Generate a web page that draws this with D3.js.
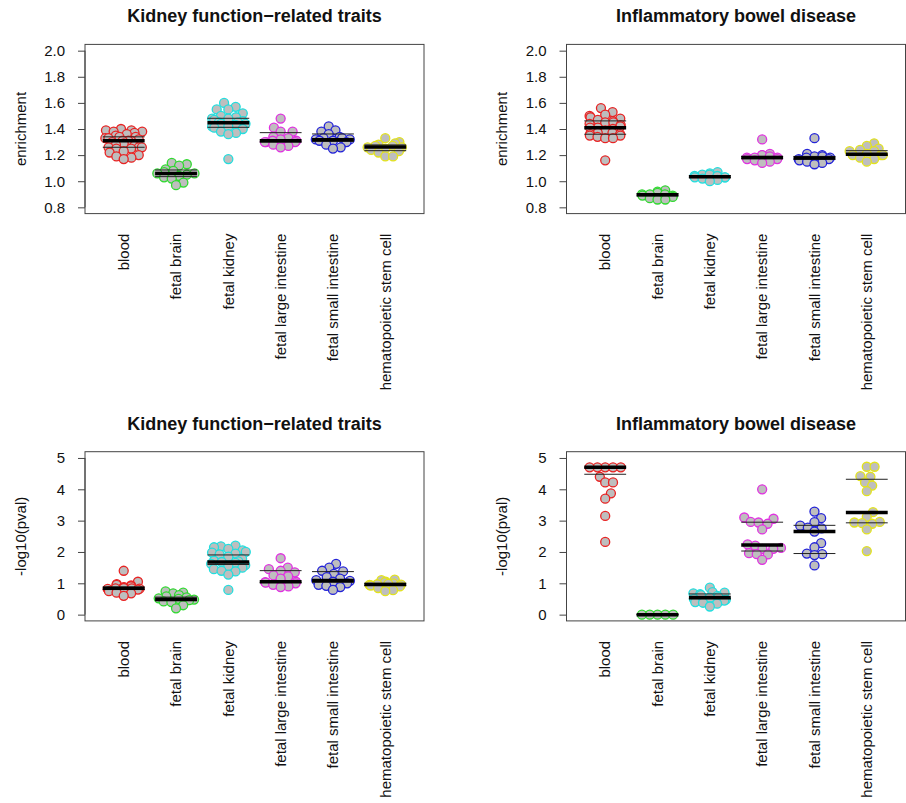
<!DOCTYPE html>
<html>
<head>
<meta charset="utf-8">
<script src="https://cdn.jsdelivr.net/npm/d3@7"></script>
<style>
  body { margin: 0; background: #fff; }
  text { font-family: "Liberation Sans", Arial, sans-serif; fill: #111; }
</style>
</head>
<body>
<script>
// tissue groups and their colours
var groups = ["blood", "fetal brain", "fetal kidney", "fetal large intestine",
              "fetal small intestine", "hematopoietic stem cell"];
var colors = ["#e82323", "#2fd92f", "#22dede", "#e032e0", "#2323d8", "#e3e31c"];

// enrichment, kidney function-related traits
var kidEnr = [
  [1.40,1.39,1.39,1.38,1.38,1.37,1.36,1.35,1.34,1.34,1.33,1.33,1.32,1.31,1.31,1.31,1.30,1.29,1.28,1.27,1.26,1.26,1.26,1.25,1.25,1.23,1.22,1.20,1.19,1.18,1.17],
  [1.14,1.13,1.12,1.09,1.08,1.07,1.06,1.06,1.05,1.04,1.03,1.02,0.99,0.97],
  [1.60,1.57,1.55,1.55,1.52,1.50,1.49,1.48,1.48,1.47,1.46,1.45,1.45,1.44,1.44,1.43,1.42,1.42,1.41,1.40,1.38,1.37,1.36,1.17],
  [1.48,1.41,1.38,1.38,1.34,1.33,1.32,1.31,1.31,1.30,1.30,1.30,1.28,1.27,1.26],
  [1.42,1.39,1.38,1.36,1.34,1.33,1.33,1.32,1.32,1.31,1.31,1.30,1.28,1.26,1.25],
  [1.33,1.30,1.29,1.28,1.27,1.27,1.26,1.26,1.25,1.24,1.23,1.22,1.19,1.19]
];
// [q1, median, q3]
var kidEnrQ = [[1.26,1.31,1.34],[1.035,1.06,1.086],[1.413,1.448,1.482],
               [1.30,1.31,1.372],[1.305,1.318,1.362],[1.234,1.262,1.278]];

// enrichment, inflammatory bowel disease
var ibdEnr = [
  [1.56,1.53,1.51,1.50,1.49,1.48,1.47,1.46,1.45,1.45,1.44,1.43,1.42,1.41,1.41,1.40,1.39,1.38,1.37,1.37,1.36,1.36,1.35,1.35,1.34,1.33,1.33,1.16],
  [0.93,0.92,0.91,0.90,0.90,0.90,0.89,0.89,0.88,0.87,0.86,0.86],
  [1.07,1.06,1.05,1.05,1.04,1.04,1.03,1.03,1.03,1.02,1.01,1.00],
  [1.32,1.21,1.20,1.20,1.19,1.18,1.18,1.18,1.17,1.17,1.16,1.15,1.14],
  [1.33,1.21,1.20,1.19,1.19,1.18,1.18,1.17,1.17,1.16,1.15,1.14,1.13],
  [1.29,1.27,1.25,1.24,1.23,1.23,1.21,1.20,1.20,1.20,1.18,1.17,1.15]
];
var ibdEnrQ = [[1.36,1.41,1.462],[0.888,0.897,0.903],[1.028,1.035,1.042],
               [1.172,1.182,1.19],[1.168,1.178,1.19],[1.20,1.206,1.234]];

// -log10(pval), kidney function-related traits
var kidP = [
  [1.40,1.05,0.97,0.95,0.93,0.90,0.88,0.86,0.85,0.84,0.84,0.83,0.82,0.80,0.75,0.70,0.68,0.60],
  [0.74,0.70,0.68,0.62,0.58,0.55,0.52,0.50,0.48,0.46,0.42,0.40,0.30,0.20],
  [2.20,2.18,2.15,2.10,2.05,2.00,1.98,1.95,1.92,1.85,1.78,1.72,1.70,1.68,1.65,1.62,1.58,1.55,1.50,1.45,1.40,1.38,1.28,0.79],
  [1.80,1.50,1.45,1.40,1.35,1.25,1.22,1.15,1.05,1.04,1.02,1.00,0.95,0.90,0.88],
  [1.62,1.50,1.40,1.38,1.30,1.20,1.15,1.10,1.08,1.05,1.00,0.95,0.92,0.88,0.79],
  [1.12,1.10,1.05,1.03,1.00,0.98,0.97,0.96,0.95,0.93,0.90,0.85,0.78,0.75]
];
var kidPQ = [[0.80,0.84,0.88],[0.44,0.49,0.56],[1.60,1.68,1.905],
             [1.03,1.053,1.404],[1.03,1.09,1.373],[0.93,0.965,1.0]];

// -log10(pval), inflammatory bowel disease
var ibdP = [
  [4.70,4.70,4.70,4.70,4.70,4.40,4.22,4.22,3.87,3.70,3.15,2.32],
  [0,0,0,0,0],
  [0.86,0.72,0.70,0.68,0.65,0.62,0.60,0.56,0.54,0.50,0.48,0.45,0.40,0.38,0.35,0.26],
  [4.00,3.10,3.06,2.96,2.94,2.90,2.72,2.24,2.20,2.13,2.10,2.10,1.96,1.93,1.92,1.75],
  [3.29,3.08,2.95,2.84,2.78,2.75,2.65,2.28,2.15,1.95,1.93,1.90,1.57],
  [4.72,4.72,4.42,4.40,4.22,4.12,3.94,3.27,3.12,2.96,2.94,2.92,2.90,2.72,2.03]
];
var ibdPQ = [[4.48,4.70,4.70],[0,0,0],[0.50,0.55,0.66],
             [2.03,2.22,2.95],[1.95,2.65,2.85],[2.93,3.26,4.32]];

var enrTicks = [0.8, 1.0, 1.2, 1.4, 1.6, 1.8, 2.0];
var pTicks = [0, 1, 2, 3, 4, 5];

var W = 906, H = 803;
var svg = d3.select("body").append("svg").attr("width", W).attr("height", H);

var panels = [
  {title: "Kidney function\u2212related traits", ylab: "enrichment", vals: kidEnr, q: kidEnrQ,
   lim: [0.8, 2.0], ticks: enrTicks, fmt: d3.format(".1f"), left: 85, top: 44.4},
  {title: "Inflammatory bowel disease", ylab: "enrichment", vals: ibdEnr, q: ibdEnrQ,
   lim: [0.8, 2.0], ticks: enrTicks, fmt: d3.format(".1f"), left: 566.5, top: 44.4},
  {title: "Kidney function\u2212related traits", ylab: "-log10(pval)", vals: kidP, q: kidPQ,
   lim: [0, 5], ticks: pTicks, fmt: d3.format("d"), left: 85, top: 451.7},
  {title: "Inflammatory bowel disease", ylab: "-log10(pval)", vals: ibdP, q: ibdPQ,
   lim: [0, 5], ticks: pTicks, fmt: d3.format("d"), left: 566.5, top: 451.7}
];

var pw = 339, ph = 169.2;
var rad = 4.5, gap = 7.8, corral = 19;

// simple swarm layout (like R beeswarm, ascending priority, corral = "wrap")
function swarm(vals, y) {
  var pts = vals.map(function(v) { return {v: v, y: y(v), x: 0}; });
  var order = pts.slice().sort(function(a, b) { return a.v - b.v; });
  var placed = [];
  order.forEach(function(p) {
    var cands = [0];
    placed.forEach(function(q) {
      var dy = Math.abs(q.y - p.y);
      if (dy < gap) {
        var dx = Math.sqrt(gap * gap - dy * dy);
        cands.push(q.x + dx, q.x - dx);
      }
    });
    cands.sort(function(a, b) { return Math.abs(a) - Math.abs(b); });
    for (var k = 0; k < cands.length; k++) {
      var c = cands[k];
      var ok = placed.every(function(q) {
        var dx = q.x - c, dy = q.y - p.y;
        return dx * dx + dy * dy >= gap * gap - 0.01;
      });
      if (ok) { p.x = c; break; }
    }
    placed.push(p);
  });
  pts.forEach(function(p) {
    if (Math.abs(p.x) > corral) {
      var w2 = corral * 2;
      p.x = (((p.x + corral) % w2) + w2) % w2 - corral;
    }
  });
  return pts;
}

panels.forEach(function(P) {
  var ext = (P.lim[1] - P.lim[0]) * 0.04;
  var x = d3.scaleLinear().domain([0.5 - 6 * 0.04, 6.5 + 6 * 0.04]).range([0, pw]);
  var y = d3.scaleLinear().domain([P.lim[0] - ext, P.lim[1] + ext]).range([ph, 0]);

  var g = svg.append("g").attr("transform", "translate(" + P.left + "," + P.top + ")");

  // title
  g.append("text").attr("x", pw / 2).attr("y", -22)
    .attr("text-anchor", "middle").style("font-size", "18px").style("font-weight", "bold")
    .text(P.title);

  // y axis
  var yAxis = d3.axisLeft(y).tickValues(P.ticks).tickFormat(P.fmt).tickSize(7).tickPadding(13);
  var ya = g.append("g").call(yAxis);
  ya.select(".domain").attr("d", "M0," + y(P.lim[0]) + "V" + y(P.lim[1])).attr("stroke", "#444");
  ya.selectAll(".tick line").attr("stroke", "#444");
  ya.selectAll(".tick text").style("font-size", "15px").style("font-family", "Liberation Sans, Arial, sans-serif").attr("fill", "#111");

  g.append("text")
    .attr("transform", "translate(-64.5," + (ph / 2) + ") rotate(-90)")
    .attr("text-anchor", "middle").attr("dy", "0.35em").style("font-size", "15px")
    .text(P.ylab);

  // group labels, no ticks
  groups.forEach(function(name, i) {
    g.append("text")
      .attr("transform", "translate(" + x(i + 1) + "," + (ph + 20) + ") rotate(-90)")
      .attr("text-anchor", "end").attr("dy", "0.35em").style("font-size", "15px")
      .text(name);
  });

  // points
  P.vals.forEach(function(vals, i) {
    var pts = swarm(vals, y);
    g.append("g").selectAll("circle").data(pts).enter().append("circle")
      .attr("cx", function(d) { return x(i + 1) + d.x; })
      .attr("cy", function(d) { return d.y; })
      .attr("r", rad)
      .attr("fill", "#bebebe")
      .attr("stroke", colors[i])
      .attr("stroke-width", 1.3);
  });

  // quartile lines (thin) and median (thick)
  P.q.forEach(function(q, i) {
    [q[0], q[2]].forEach(function(v) {
      g.append("line").attr("x1", x(i + 0.6)).attr("x2", x(i + 1.4))
        .attr("y1", y(v)).attr("y2", y(v)).attr("stroke", "#222").attr("stroke-width", 1);
    });
    g.append("line").attr("x1", x(i + 0.6)).attr("x2", x(i + 1.4))
      .attr("y1", y(q[1])).attr("y2", y(q[1])).attr("stroke", "#000").attr("stroke-width", 3.5);
  });

  // box
  g.append("rect").attr("width", pw).attr("height", ph)
    .attr("fill", "none").attr("stroke", "#444").attr("stroke-width", 1);
});
</script>
</body>
</html>
